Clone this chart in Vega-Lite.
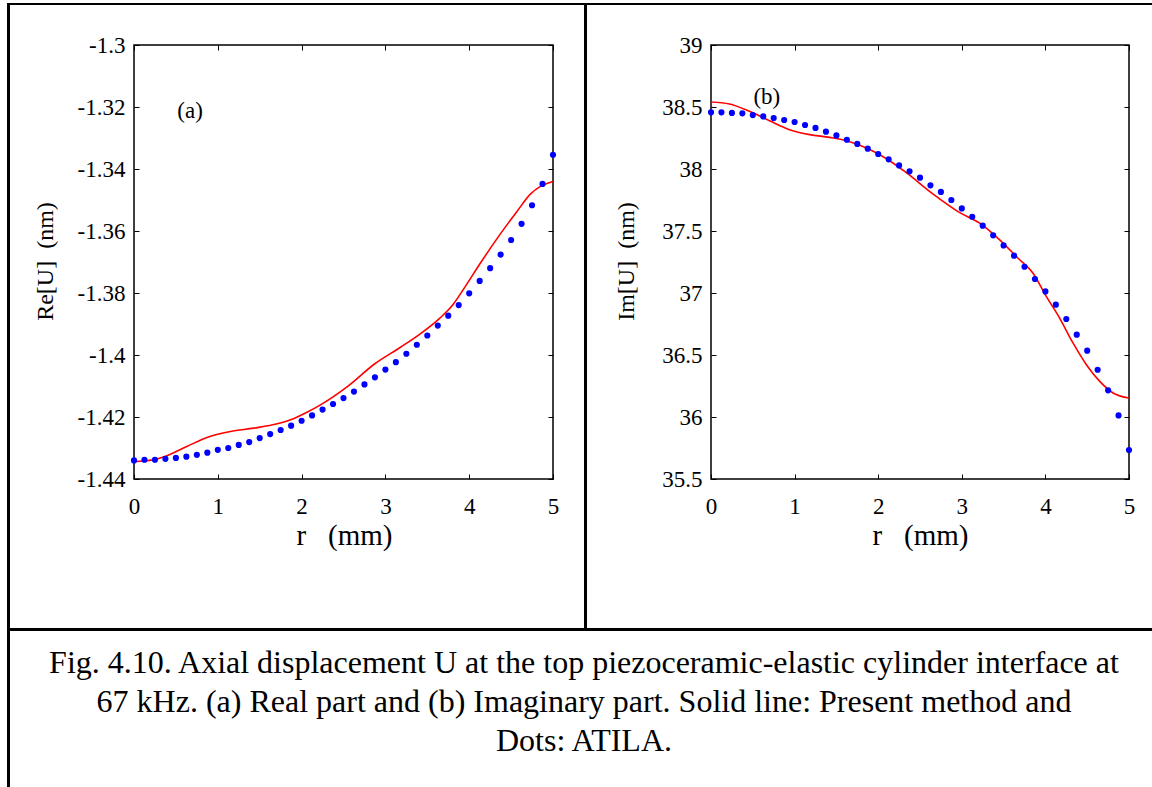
{
  "$schema": "https://vega.github.io/schema/vega-lite/v6.json",
  "background": "white",
  "padding": {"left": 7, "top": 3, "right": 0, "bottom": 0},
  "config": {
    "font": "Liberation Serif",
    "view": {"stroke": null},
    "axis": {
      "domain": false, "grid": false, "tickColor": "black", "tickWidth": 1, "tickSize": -5,
      "labelColor": "black", "labelFontSize": 23, "labelFont": "Liberation Serif",
      "titleColor": "black", "titleFont": "Liberation Serif", "titleFontWeight": "normal",
      "labelFlush": false, "labelOverlap": false, "labelBound": false
    }
  },
  "datasets": {
    "empty": [],
    "reLine": [
      {"r": 0, "v": -1.4344}, {"r": 0.12, "v": -1.4342}, {"r": 0.23, "v": -1.4338}, {"r": 0.35, "v": -1.4329},
      {"r": 0.63, "v": -1.4295}, {"r": 0.87, "v": -1.4266}, {"r": 1.15, "v": -1.4247}, {"r": 1.43, "v": -1.4236},
      {"r": 1.71, "v": -1.4222}, {"r": 1.87, "v": -1.4209}, {"r": 2.07, "v": -1.4184}, {"r": 2.23, "v": -1.416},
      {"r": 2.55, "v": -1.4101}, {"r": 2.87, "v": -1.4029}, {"r": 3.18, "v": -1.3975}, {"r": 3.42, "v": -1.3931},
      {"r": 3.65, "v": -1.3881}, {"r": 3.81, "v": -1.3836}, {"r": 3.97, "v": -1.3772}, {"r": 4.13, "v": -1.3705},
      {"r": 4.37, "v": -1.361}, {"r": 4.57, "v": -1.3537}, {"r": 4.73, "v": -1.3481}, {"r": 4.85, "v": -1.3456},
      {"r": 5.0, "v": -1.344}
    ],
    "reDots": [
      {"r": 0, "v": -1.434}, {"r": 0.125, "v": -1.4338}, {"r": 0.25, "v": -1.4338}, {"r": 0.375, "v": -1.4335},
      {"r": 0.5, "v": -1.4332}, {"r": 0.625, "v": -1.4328}, {"r": 0.75, "v": -1.4322}, {"r": 0.875, "v": -1.4315},
      {"r": 1.0, "v": -1.4306}, {"r": 1.125, "v": -1.43}, {"r": 1.25, "v": -1.429}, {"r": 1.375, "v": -1.4281},
      {"r": 1.5, "v": -1.4268}, {"r": 1.625, "v": -1.4255}, {"r": 1.75, "v": -1.4242}, {"r": 1.875, "v": -1.4228},
      {"r": 2.0, "v": -1.4212}, {"r": 2.125, "v": -1.4195}, {"r": 2.25, "v": -1.4176}, {"r": 2.375, "v": -1.4158},
      {"r": 2.5, "v": -1.4139}, {"r": 2.625, "v": -1.4118}, {"r": 2.75, "v": -1.4095}, {"r": 2.875, "v": -1.4072},
      {"r": 3.0, "v": -1.4047}, {"r": 3.125, "v": -1.4023}, {"r": 3.25, "v": -1.3996}, {"r": 3.375, "v": -1.3967},
      {"r": 3.5, "v": -1.3937}, {"r": 3.625, "v": -1.3905}, {"r": 3.75, "v": -1.3873}, {"r": 3.875, "v": -1.3839},
      {"r": 4.0, "v": -1.3801}, {"r": 4.125, "v": -1.3761}, {"r": 4.25, "v": -1.372}, {"r": 4.375, "v": -1.3676},
      {"r": 4.5, "v": -1.3629}, {"r": 4.625, "v": -1.3577}, {"r": 4.75, "v": -1.3517}, {"r": 4.875, "v": -1.3448},
      {"r": 5.0, "v": -1.3354}
    ],
    "imLine": [
      {"r": 0, "v": 38.54}, {"r": 0.22, "v": 38.524}, {"r": 0.46, "v": 38.465}, {"r": 0.7, "v": 38.389},
      {"r": 0.94, "v": 38.317}, {"r": 1.18, "v": 38.277}, {"r": 1.42, "v": 38.255}, {"r": 1.62, "v": 38.228},
      {"r": 1.86, "v": 38.169}, {"r": 2.1, "v": 38.083}, {"r": 2.34, "v": 37.968}, {"r": 2.65, "v": 37.801},
      {"r": 2.97, "v": 37.65}, {"r": 3.21, "v": 37.565}, {"r": 3.45, "v": 37.43}, {"r": 3.67, "v": 37.282},
      {"r": 3.85, "v": 37.161}, {"r": 4.01, "v": 36.973}, {"r": 4.17, "v": 36.798}, {"r": 4.33, "v": 36.597},
      {"r": 4.49, "v": 36.422}, {"r": 4.65, "v": 36.287}, {"r": 4.81, "v": 36.194}, {"r": 5.0, "v": 36.153}
    ],
    "imDots": [
      {"r": 0, "v": 38.457}, {"r": 0.125, "v": 38.457}, {"r": 0.25, "v": 38.452}, {"r": 0.375, "v": 38.449},
      {"r": 0.5, "v": 38.435}, {"r": 0.625, "v": 38.424}, {"r": 0.75, "v": 38.411}, {"r": 0.875, "v": 38.395},
      {"r": 1.0, "v": 38.379}, {"r": 1.125, "v": 38.355}, {"r": 1.25, "v": 38.331}, {"r": 1.375, "v": 38.301},
      {"r": 1.5, "v": 38.271}, {"r": 1.625, "v": 38.236}, {"r": 1.75, "v": 38.202}, {"r": 1.875, "v": 38.164},
      {"r": 2.0, "v": 38.121}, {"r": 2.125, "v": 38.078}, {"r": 2.25, "v": 38.029}, {"r": 2.375, "v": 37.981},
      {"r": 2.5, "v": 37.93}, {"r": 2.625, "v": 37.868}, {"r": 2.75, "v": 37.815}, {"r": 2.875, "v": 37.75},
      {"r": 3.0, "v": 37.682}, {"r": 3.125, "v": 37.615}, {"r": 3.25, "v": 37.543}, {"r": 3.375, "v": 37.465},
      {"r": 3.5, "v": 37.384}, {"r": 3.625, "v": 37.301}, {"r": 3.75, "v": 37.212}, {"r": 3.875, "v": 37.113},
      {"r": 4.0, "v": 37.013}, {"r": 4.125, "v": 36.906}, {"r": 4.25, "v": 36.79}, {"r": 4.375, "v": 36.664},
      {"r": 4.5, "v": 36.535}, {"r": 4.625, "v": 36.381}, {"r": 4.75, "v": 36.215}, {"r": 4.875, "v": 36.013},
      {"r": 5.0, "v": 35.734}
    ],
    "caption": [
      {"line": 1, "text": "Fig. 4.10. Axial displacement U at the top piezoceramic-elastic cylinder interface at"},
      {"line": 2, "text": "67 kHz. (a) Real part and (b) Imaginary part. Solid line: Present method and"},
      {"line": 3, "text": "Dots: ATILA."}
    ]
  },
  "bounds": "flush",
  "spacing": 0,
  "align": "each",
  "columns": 8,
  "concat": [
    {"data": {"name": "empty"}, "mark": "point", "width": 3, "height": 2, "view": {"fill": "black", "stroke": null}},
    {"data": {"name": "empty"}, "mark": "point", "width": 124, "height": 2, "view": {"fill": "black", "stroke": null}},
    {"data": {"name": "empty"}, "mark": "point", "width": 419, "height": 2, "view": {"fill": "black", "stroke": null}},
    {"data": {"name": "empty"}, "mark": "point", "width": 31, "height": 2, "view": {"fill": "black", "stroke": null}},
    {"data": {"name": "empty"}, "mark": "point", "width": 3, "height": 2, "view": {"fill": "black", "stroke": null}},
    {"data": {"name": "empty"}, "mark": "point", "width": 124, "height": 2, "view": {"fill": "black", "stroke": null}},
    {"data": {"name": "empty"}, "mark": "point", "width": 418, "height": 2, "view": {"fill": "black", "stroke": null}},
    {"data": {"name": "empty"}, "mark": "point", "width": 23, "height": 2, "view": {"fill": "black", "stroke": null}},

    {"data": {"name": "empty"}, "mark": "point", "width": 3, "height": 40, "view": {"fill": "black", "stroke": null}},
    {"data": {"name": "empty"}, "mark": "point", "width": 124, "height": 40},
    {"data": {"name": "empty"}, "mark": "point", "width": 419, "height": 40},
    {"data": {"name": "empty"}, "mark": "point", "width": 31, "height": 40},
    {"data": {"name": "empty"}, "mark": "point", "width": 3, "height": 40, "view": {"fill": "black", "stroke": null}},
    {"data": {"name": "empty"}, "mark": "point", "width": 124, "height": 40},
    {"data": {"name": "empty"}, "mark": "point", "width": 418, "height": 40},
    {"data": {"name": "empty"}, "mark": "point", "width": 23, "height": 40},

    {"data": {"name": "empty"}, "mark": "point", "width": 3, "height": 434, "view": {"fill": "black", "stroke": null}},
    {"data": {"name": "empty"}, "mark": "point", "width": 124, "height": 434},
    {
      "width": 419,
      "height": 434,
      "view": {"stroke": "black", "strokeWidth": 1.5},
      "resolve": {"axis": {"x": "independent", "y": "independent"}},
      "layer": [
        {
          "data": {"name": "reLine"},
          "mark": {"type": "line", "color": "#ff0000", "strokeWidth": 1.6, "interpolate": "monotone"},
          "encoding": {
            "x": {"field": "r", "type": "quantitative", "scale": {"domain": [0, 5], "nice": false, "zero": false},
              "axis": {"orient": "bottom", "values": [0, 1, 2, 3, 4, 5], "labelBaseline": "alphabetic", "labelPadding": 39,
                "title": "r\u00a0\u00a0\u00a0(mm)", "titleFontSize": 29, "titleBaseline": "alphabetic", "titleAlign": "center", "titleX": 210, "titleY": 65}},
            "y": {"field": "v", "type": "quantitative", "scale": {"domain": [-1.44, -1.3], "nice": false, "zero": false},
              "axis": {"orient": "left", "values": [-1.44, -1.42, -1.4, -1.38, -1.36, -1.34, -1.32, -1.3], "labelExpr": "'' + datum.value",
                "labelPadding": 14, "labelBaseline": "middle",
                "title": "Re[U]\u00a0\u00a0(nm)", "titleFontSize": 24, "titleAngle": 270, "titleBaseline": "middle", "titleAlign": "center", "titleX": -89, "titleY": 216}}
          }
        },
        {
          "data": {"name": "reDots"},
          "mark": {"type": "circle", "color": "#0000ff", "size": 38, "opacity": 1},
          "encoding": {
            "x": {"field": "r", "type": "quantitative", "scale": {"domain": [0, 5], "nice": false, "zero": false},
              "axis": {"orient": "top", "values": [0, 1, 2, 3, 4, 5], "labels": false, "title": null}},
            "y": {"field": "v", "type": "quantitative", "scale": {"domain": [-1.44, -1.3], "nice": false, "zero": false},
              "axis": {"orient": "right", "values": [-1.44, -1.42, -1.4, -1.38, -1.36, -1.34, -1.32, -1.3], "labels": false, "title": null}}
          }
        },
        {
          "data": {"values": [{"r": 0.669, "v": -1.3214, "label": "(a)"}]},
          "mark": {"type": "text", "fontSize": 23, "font": "Liberation Serif", "align": "center", "baseline": "middle", "color": "black"},
          "encoding": {
            "x": {"field": "r", "type": "quantitative", "axis": null},
            "y": {"field": "v", "type": "quantitative", "axis": null},
            "text": {"field": "label"}
          }
        }
      ]
    },
    {"data": {"name": "empty"}, "mark": "point", "width": 31, "height": 434},
    {"data": {"name": "empty"}, "mark": "point", "width": 3, "height": 434, "view": {"fill": "black", "stroke": null}},
    {"data": {"name": "empty"}, "mark": "point", "width": 124, "height": 434},
    {
      "width": 418,
      "height": 434,
      "view": {"stroke": "black", "strokeWidth": 1.5},
      "resolve": {"axis": {"x": "independent", "y": "independent"}},
      "layer": [
        {
          "data": {"name": "imLine"},
          "mark": {"type": "line", "color": "#ff0000", "strokeWidth": 1.6, "interpolate": "monotone"},
          "encoding": {
            "x": {"field": "r", "type": "quantitative", "scale": {"domain": [0, 5], "nice": false, "zero": false},
              "axis": {"orient": "bottom", "values": [0, 1, 2, 3, 4, 5], "labelBaseline": "alphabetic", "labelPadding": 39,
                "title": "r\u00a0\u00a0\u00a0(mm)", "titleFontSize": 29, "titleBaseline": "alphabetic", "titleAlign": "center", "titleX": 209, "titleY": 65}},
            "y": {"field": "v", "type": "quantitative", "scale": {"domain": [35.5, 39], "nice": false, "zero": false},
              "axis": {"orient": "left", "values": [35.5, 36, 36.5, 37, 37.5, 38, 38.5, 39], "labelExpr": "'' + datum.value",
                "labelPadding": 14, "labelBaseline": "middle",
                "title": "Im[U]\u00a0\u00a0(nm)", "titleFontSize": 24, "titleAngle": 270, "titleBaseline": "middle", "titleAlign": "center", "titleX": -85, "titleY": 216}}
          }
        },
        {
          "data": {"name": "imDots"},
          "mark": {"type": "circle", "color": "#0000ff", "size": 38, "opacity": 1},
          "encoding": {
            "x": {"field": "r", "type": "quantitative", "scale": {"domain": [0, 5], "nice": false, "zero": false},
              "axis": {"orient": "top", "values": [0, 1, 2, 3, 4, 5], "labels": false, "title": null}},
            "y": {"field": "v", "type": "quantitative", "scale": {"domain": [35.5, 39], "nice": false, "zero": false},
              "axis": {"orient": "right", "values": [35.5, 36, 36.5, 37, 37.5, 38, 38.5, 39], "labels": false, "title": null}}
          }
        },
        {
          "data": {"values": [{"r": 0.668, "v": 38.579, "label": "(b)"}]},
          "mark": {"type": "text", "fontSize": 23, "font": "Liberation Serif", "align": "center", "baseline": "middle", "color": "black"},
          "encoding": {
            "x": {"field": "r", "type": "quantitative", "axis": null},
            "y": {"field": "v", "type": "quantitative", "axis": null},
            "text": {"field": "label"}
          }
        }
      ]
    },
    {"data": {"name": "empty"}, "mark": "point", "width": 23, "height": 434},

    {"data": {"name": "empty"}, "mark": "point", "width": 3, "height": 149, "view": {"fill": "black", "stroke": null}},
    {"data": {"name": "empty"}, "mark": "point", "width": 124, "height": 149},
    {"data": {"name": "empty"}, "mark": "point", "width": 419, "height": 149},
    {"data": {"name": "empty"}, "mark": "point", "width": 31, "height": 149},
    {"data": {"name": "empty"}, "mark": "point", "width": 3, "height": 149, "view": {"fill": "black", "stroke": null}},
    {"data": {"name": "empty"}, "mark": "point", "width": 124, "height": 149},
    {"data": {"name": "empty"}, "mark": "point", "width": 418, "height": 149},
    {"data": {"name": "empty"}, "mark": "point", "width": 23, "height": 149},

    {"data": {"name": "empty"}, "mark": "point", "width": 3, "height": 3, "view": {"fill": "black", "stroke": null}},
    {"data": {"name": "empty"}, "mark": "point", "width": 124, "height": 3, "view": {"fill": "black", "stroke": null}},
    {"data": {"name": "empty"}, "mark": "point", "width": 419, "height": 3, "view": {"fill": "black", "stroke": null}},
    {"data": {"name": "empty"}, "mark": "point", "width": 31, "height": 3, "view": {"fill": "black", "stroke": null}},
    {"data": {"name": "empty"}, "mark": "point", "width": 3, "height": 3, "view": {"fill": "black", "stroke": null}},
    {"data": {"name": "empty"}, "mark": "point", "width": 124, "height": 3, "view": {"fill": "black", "stroke": null}},
    {"data": {"name": "empty"}, "mark": "point", "width": 418, "height": 3, "view": {"fill": "black", "stroke": null}},
    {"data": {"name": "empty"}, "mark": "point", "width": 23, "height": 3, "view": {"fill": "black", "stroke": null}},

    {"data": {"name": "empty"}, "mark": "point", "width": 3, "height": 156, "view": {"fill": "black", "stroke": null}},
    {"data": {"name": "empty"}, "mark": "point", "width": 124, "height": 156},
    {"data": {"name": "empty"}, "mark": "point", "width": 419, "height": 156},
    {"data": {"name": "empty"}, "mark": "point", "width": 31, "height": 156},
    {
      "width": 3,
      "height": 156,
      "data": {"name": "caption"},
      "mark": {"type": "text", "fontSize": 32, "font": "Liberation Serif", "baseline": "alphabetic", "align": "center", "color": "black", "x": {"expr": "width/2"}},
      "encoding": {
        "y": {"field": "line", "type": "ordinal", "scale": {"type": "point", "padding": 1.2034, "align": 0.5434}, "axis": null},
        "text": {"field": "text"}
      }
    },
    {"data": {"name": "empty"}, "mark": "point", "width": 124, "height": 156},
    {"data": {"name": "empty"}, "mark": "point", "width": 418, "height": 156},
    {"data": {"name": "empty"}, "mark": "point", "width": 23, "height": 156}
  ]
}
